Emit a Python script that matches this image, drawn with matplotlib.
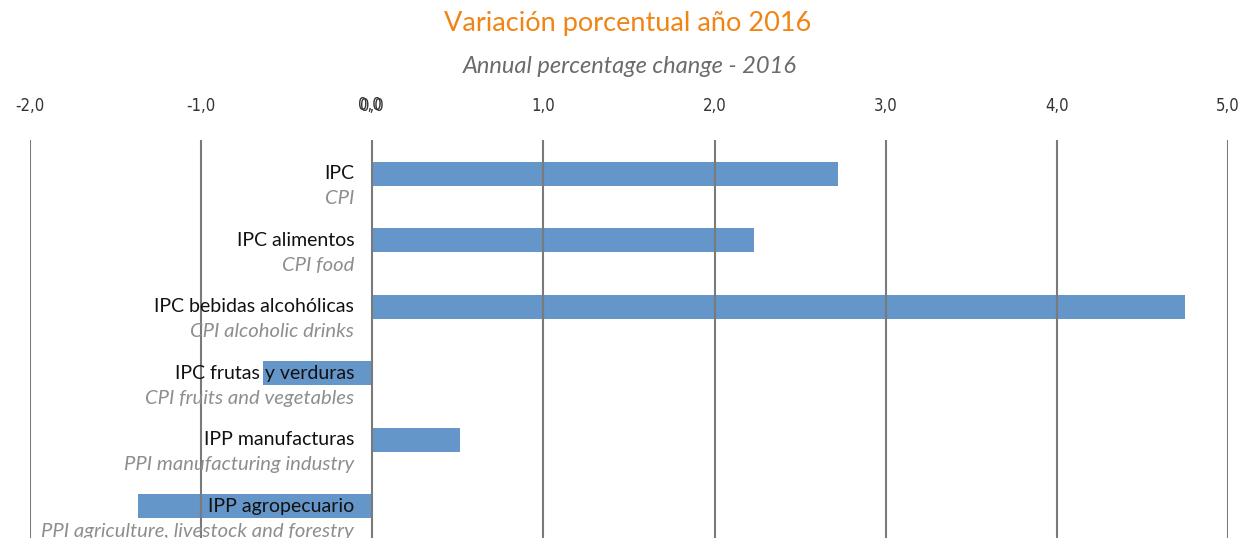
import matplotlib.pyplot as plt
import numpy as np

# Data
labels_es = ['IPC', 'IPC alimentos', 'IPC bebidas alcohólicas', 'IPC frutas y verduras',
             'IPP manufacturas', 'IPP agropecuario']
labels_en = ['CPI', 'CPI food', 'CPI alcoholic drinks', 'CPI fruits and vegetables',
             'PPI manufacturing industry', 'PPI agriculture, livestock and forestry']
values = [2.72, 2.23, 4.75, -0.64, 0.51, -1.37]
ticks = [-2, -1, 0, 1, 2, 3, 4, 5]
tick_labels = ['-2,0', '-1,0', '0,0', '1,0', '2,0', '3,0', '4,0', '5,0']

plt.rcParams['font.family'] = ['Lato', 'DejaVu Sans']
tick_font = dict(family='DejaVu Sans', stretch='condensed', fontsize=12, color='#333333')

fig = plt.figure(figsize=(12.45, 5.38), dpi=100)
ax = fig.add_axes([30 / 1245, 0, 1198 / 1245, 398 / 538])

y = np.arange(len(values))
ax.barh(y, values, height=0.36, color='#6496C9', zorder=1)

for t in ticks:
    ax.axvline(t, color='#7a7a7a', linewidth=1.5, zorder=2)

ax.set_xlim(-2, 5)
ax.set_ylim(5.48, -0.51)
ax.set_yticks([])
ax.xaxis.tick_top()
ax.set_xticks(ticks)
ax.set_xticklabels(tick_labels, **tick_font)
ax.tick_params(axis='x', length=0, pad=18)
for s in ax.spines.values():
    s.set_visible(False)

# overlapping zero label like in the original
ax.annotate('0,0', xy=(0, -0.51), xycoords='data', xytext=(-2, 25.5), textcoords='offset points',
            ha='center', va='center', annotation_clip=False, **tick_font)

for i in range(len(values)):
    ax.annotate(labels_es[i], xy=(0, i), xytext=(-13, 0), textcoords='offset points',
                ha='right', va='center', fontsize=14, color='#111111', zorder=3)
    ax.annotate(labels_en[i], xy=(0, i), xytext=(-13, -18), textcoords='offset points',
                ha='right', va='center', fontsize=14.6, color='#8e8e8e', style='italic',
                zorder=3, annotation_clip=False)

fig.text(0.504, 1 - 23 / 538, 'Variación porcentual año 2016', ha='center', va='center',
         fontsize=19.5, color='#F08516')
fig.text(0.506, 1 - 66 / 538, 'Annual percentage change - 2016', ha='center', va='center',
         fontsize=17, color='#6b6b6b', style='italic')

fig.savefig('out.png', dpi=100)
